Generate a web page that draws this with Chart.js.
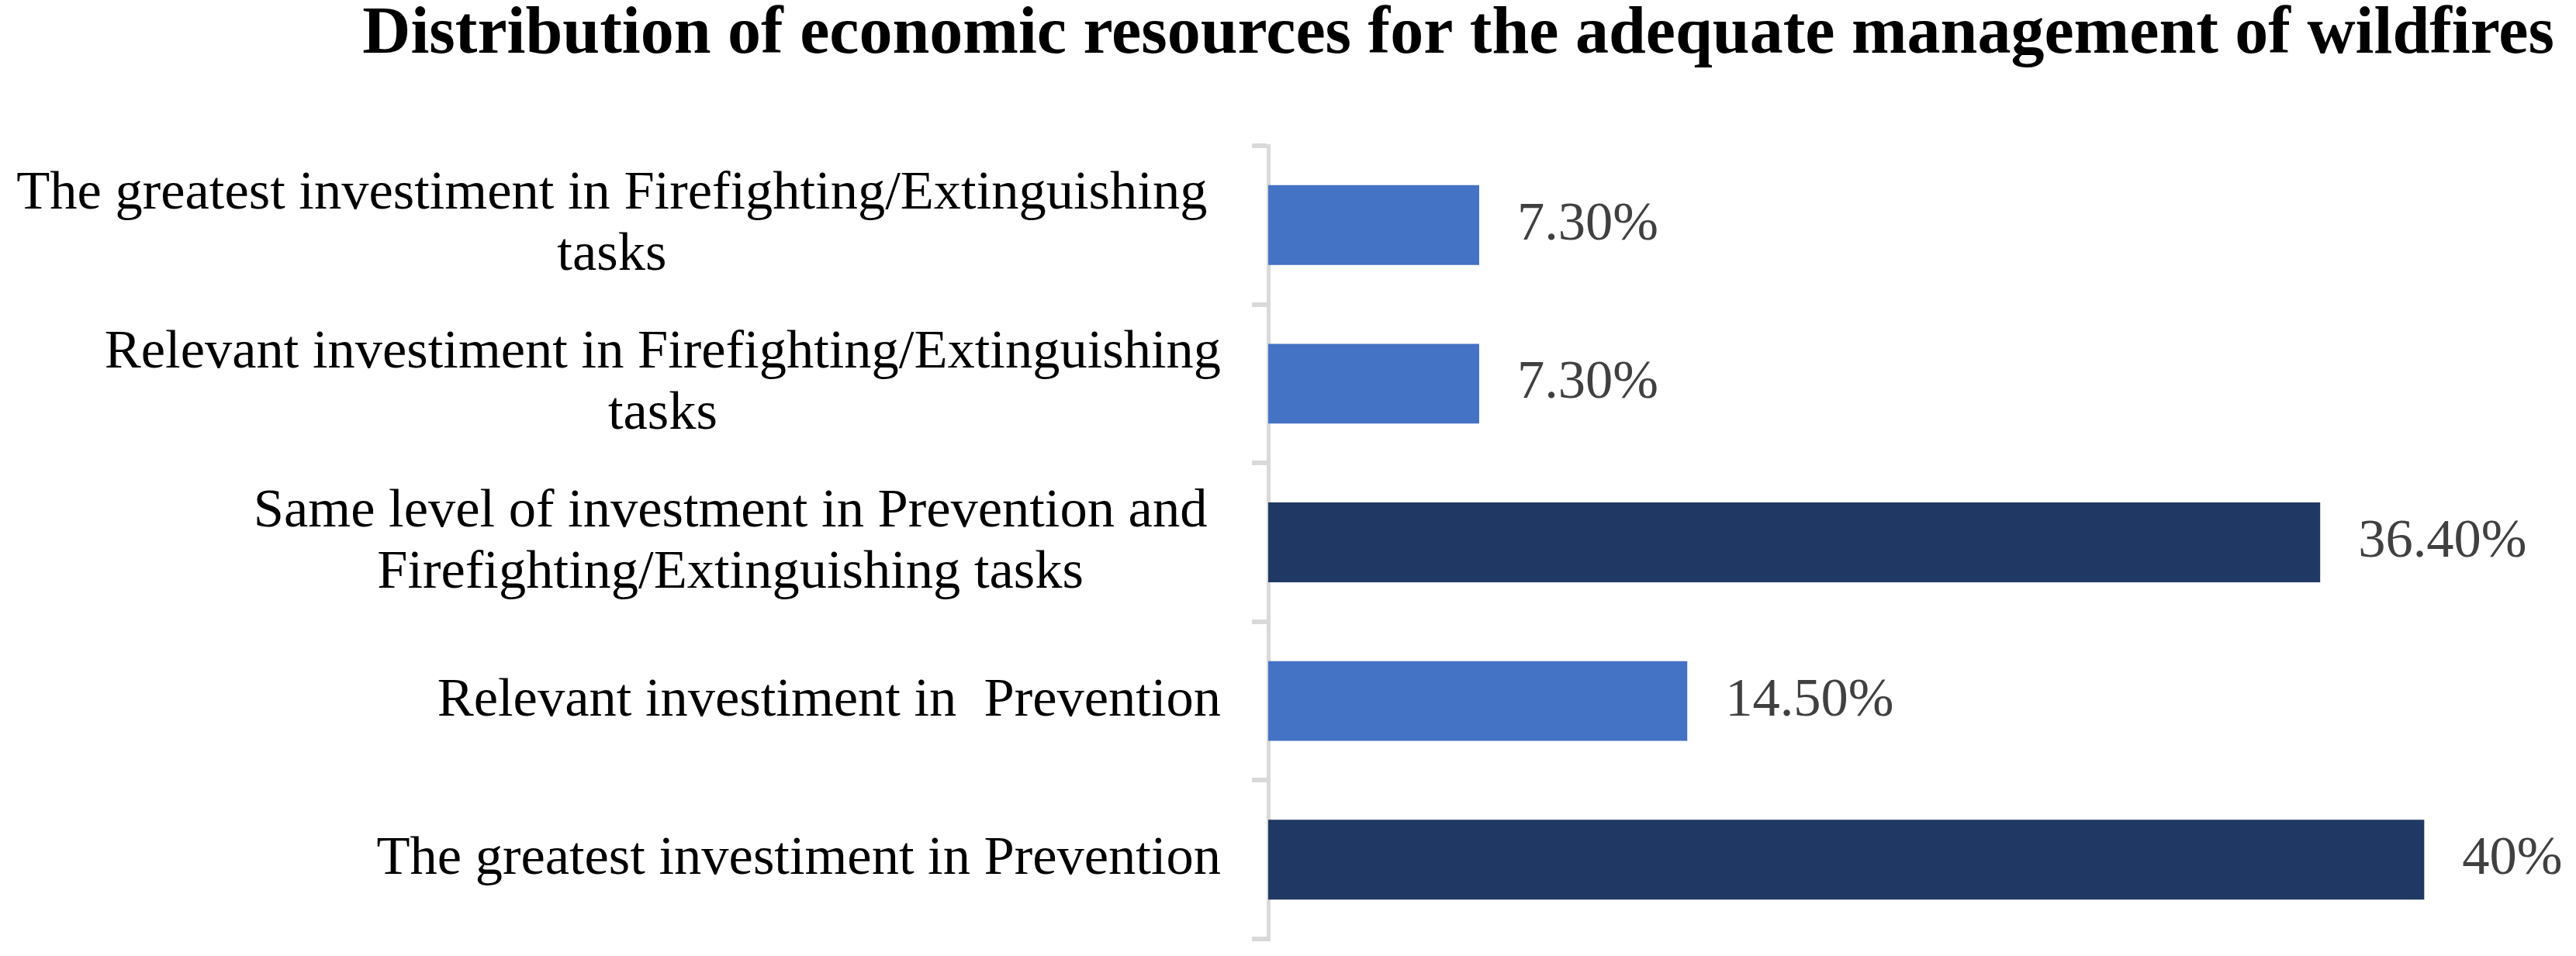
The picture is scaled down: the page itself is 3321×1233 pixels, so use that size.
<!DOCTYPE html>
<html>
<head>
<meta charset="utf-8">
<script src="https://cdn.jsdelivr.net/npm/chart.js@4/dist/chart.umd.min.js"></script>
<style>
  html, body { margin: 0; padding: 0; background: #ffffff; }
  #wrap { width: 3321px; height: 1233px; }
</style>
</head>
<body>
<div id="wrap"><canvas id="c" width="3321" height="1233"></canvas></div>
<script>
// ---- data ----
const chartTitle = "Distribution of economic resources for the adequate management of wildfires";
const categories = [
  ["The greatest investiment in Firefighting/Extinguishing ", "tasks"],
  ["Relevant investiment in Firefighting/Extinguishing", "tasks"],
  ["Same level of investment in Prevention and ", "Firefighting/Extinguishing tasks"],
  ["Relevant investiment in  Prevention"],
  ["The greatest investiment in Prevention"]
];
const values = [7.3, 7.3, 36.4, 14.5, 40];
const valueLabels = ["7.30%", "7.30%", "36.40%", "14.50%", "40%"];
const barColors = ["#4472C4", "#4472C4", "#203864", "#4472C4", "#203864"];

const SERIF = "'Liberation Serif', 'Times New Roman', serif";

const labelsPlugin = {
  id: 'customLabels',
  afterDraw(chart) {
    const ctx = chart.ctx;
    const y = chart.scales.y;
    ctx.save();
    // category labels
    ctx.font = "70.5px " + SERIF;
    ctx.fillStyle = "#000000";
    ctx.textBaseline = "middle";
    ctx.textAlign = "center";
    const right = y.right - 61;
    const lh = 79;
    categories.forEach((lines, i) => {
      const cy = y.getPixelForValue(i);
      let W = 0, TW = 0;
      lines.forEach(l => {
        const fw = ctx.measureText(l).width;
        if (fw > W) { W = fw; TW = ctx.measureText(l.trim()).width; }
      });
      const left = right - W;
      const cx = left + TW / 2;
      const y0 = cy - (lines.length - 1) * lh / 2;
      lines.forEach((l, k) => {
        ctx.fillText(l.trim(), cx, y0 + k * lh);
      });
    });
    // value labels
    ctx.fillStyle = "#404040";
    ctx.textAlign = "left";
    const meta = chart.getDatasetMeta(0);
    meta.data.forEach((bar, i) => {
      ctx.fillText(valueLabels[i], bar.x + 49, bar.y);
    });
    ctx.restore();
  }
};

new Chart(document.getElementById('c'), {
  type: 'bar',
  data: {
    labels: categories,
    datasets: [{
      data: values,
      backgroundColor: barColors,
      borderWidth: 0,
      barPercentage: 0.503,
      categoryPercentage: 1.0
    }]
  },
  options: {
    indexAxis: 'y',
    responsive: false,
    animation: false,
    devicePixelRatio: 1,
    layout: { padding: { top: 0, left: 0, right: 28, bottom: 22 } },
    plugins: {
      legend: { display: false },
      tooltip: { enabled: false },
      title: {
        display: true,
        text: chartTitle,
        align: 'end',
        color: '#000000',
        font: { family: SERIF, size: 86, weight: 'bold', lineHeight: 1.0 },
        padding: { top: 3, bottom: 99 }
      }
    },
    scales: {
      x: {
        display: false,
        min: 0,
        max: 44.5
      },
      y: {
        position: 'left',
        afterFit(scale) { scale.width = 1635; },
        ticks: { color: 'rgba(0,0,0,0)', font: { size: 10 } },
        border: { display: true, color: '#d9d9d9', width: 5 },
        grid: {
          display: true,
          offset: true,
          drawOnChartArea: false,
          drawTicks: true,
          tickLength: 21,
          color: '#d9d9d9',
          lineWidth: 6
        }
      }
    }
  },
  plugins: [labelsPlugin]
});
</script>
</body>
</html>
